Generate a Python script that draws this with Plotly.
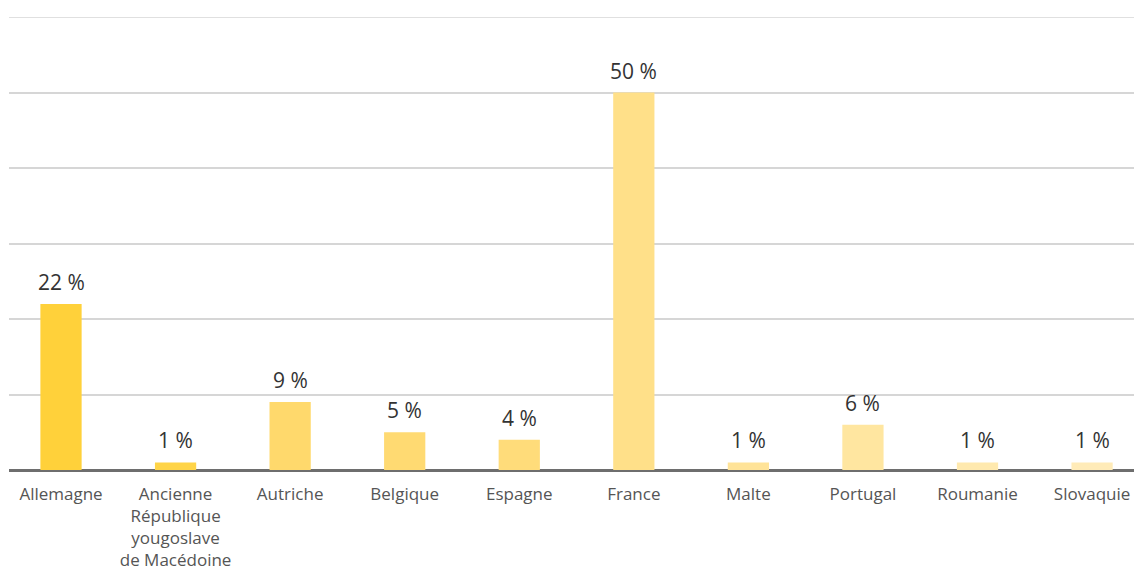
import plotly.graph_objects as go

countries = ["Allemagne", "Ancienne<br>République<br>yougoslave<br>de Macédoine", "Autriche",
             "Belgique", "Espagne", "France", "Malte", "Portugal", "Roumanie", "Slovaquie"]
shares = [22, 1, 9, 5, 4, 50, 1, 6, 1, 1]
bar_colors = ["#FFD13A", "#FFD447", "#FFD96C", "#FFDA72", "#FFDC7A",
              "#FFE089", "#FFE398", "#FFE6A0", "#FFE9AE", "#FFEBB8"]

labels = [f"{v} %" for v in shares]
xs = list(range(len(countries)))

fig = go.Figure(go.Bar(
    x=xs, y=shares,
    marker=dict(color=bar_colors, line=dict(width=0)),
    width=0.36,
    hoverinfo="skip",
))

# value labels above each bar
for x, v, t in zip(xs, shares, labels):
    fig.add_annotation(
        x=x, y=v, text=t, showarrow=False,
        yanchor="bottom", yshift=6,
        font=dict(family="Open Sans", size=21, color="#333333"),
    )

# top gridline at the upper bound of the axis
fig.add_shape(type="line", xref="paper", x0=0, x1=1, yref="y", y0=60, y1=60,
              line=dict(color="#D6D6D6", width=1.5), layer="below")

fig.update_layout(
    width=1134, height=574,
    margin=dict(l=9, r=0, t=17, b=104),
    paper_bgcolor="white", plot_bgcolor="white",
    showlegend=False,
    font=dict(family="Open Sans", color="#555555"),
    xaxis=dict(
        tickmode="array", tickvals=xs, ticktext=countries,
        range=[-0.454, 9.366],
        tickfont=dict(family="Open Sans", size=17, color="#555555"),
        ticklabelstandoff=12,
        showgrid=False, zeroline=False, showline=False, ticks="",
    ),
    yaxis=dict(
        range=[0, 60], dtick=10,
        showgrid=True, gridcolor="#D6D6D6", gridwidth=1.5,
        showticklabels=False, zeroline=True, zerolinecolor="#6E6E6E", zerolinewidth=2.5,
        showline=False, ticks="",
    ),
)

fig.write_html("out.html")
